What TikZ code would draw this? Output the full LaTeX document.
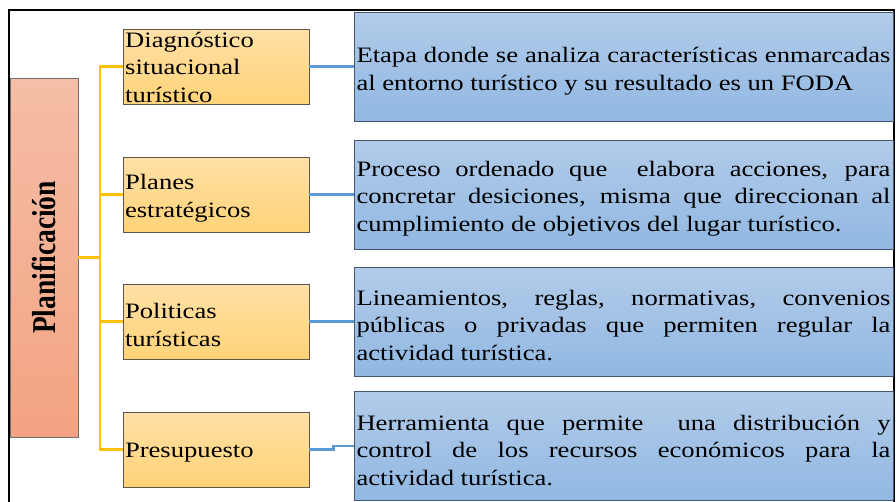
\documentclass[tikz,border=0pt]{standalone}
\usepackage{fontspec}
\setmainfont{Liberation Serif}[FakeStretch=1.21]
\newfontfamily\plainserif{Liberation Serif}
\usetikzlibrary{calc}
\definecolor{ytop}{RGB}{255,224,166}
\definecolor{ybot}{RGB}{255,211,120}
\definecolor{yborder}{RGB}{95,85,72}
\definecolor{btop}{RGB}{178,203,233}
\definecolor{bbot}{RGB}{145,184,226}
\definecolor{bborder}{RGB}{70,88,110}
\definecolor{ptop}{RGB}{245,190,166}
\definecolor{pbot}{RGB}{243,163,130}
\definecolor{pborder}{RGB}{110,110,110}
\definecolor{gold}{RGB}{255,192,0}
\definecolor{lblue}{RGB}{91,155,213}
\tikzset{
  ybox/.style={draw=yborder, line width=0.9pt, top color=ytop, bottom color=ybot,
    minimum width=186pt, minimum height=75pt, inner sep=0pt},
  ytext/.style={inner sep=0pt, text width=182pt, align=left,
    font=\fontsize{22}{27.5}\selectfont},
  bbox/.style={draw=bborder, line width=0.9pt, top color=btop, bottom color=bbot,
    minimum width=539pt, minimum height=109pt, inner sep=0pt},
  btext/.style={inner sep=0pt, text width=534pt, align=justify,
    font=\fontsize{22}{27.5}\selectfont},
  yc/.style={draw=gold, line width=2.6pt},
  bc/.style={draw=lblue, line width=2.2pt},
}
\begin{document}
\begin{tikzpicture}[x=1pt,y=-1pt]
\useasboundingbox (0,0) rectangle (896,501);
\clip (0,0) rectangle (896,501);
\fill[white] (0,0) rectangle (896,501);
% frame
\draw[black, line width=1.8pt] (9,530) -- (9,10) -- (894,10) -- (894,530);
% pink
\node[draw=pborder, line width=0.9pt, top color=ptop, bottom color=pbot,
  minimum width=68pt, minimum height=359pt, inner sep=0pt] (pink) at (44,257.5)
  {\rotatebox{90}{\scalebox{1}[1.21]{\plainserif\fontsize{27.5}{30}\selectfont\bfseries Planificación}}};
% yellow boxes
\node[ybox] (y1) at (216,66.5) {};
\node[anchor=base west, inner sep=0pt] (y1t) at (125,47)
  {\parbox[t]{182pt}{\fontsize{22}{27.5}\selectfont Diagnóstico\\situacional\\turístico}};
\node[ybox] (y2) at (216,194.5) {};
\node[ytext] (y2t) at ($(y2.center)+(0,3.5)$) {Planes\\estratégicos};
\node[ybox] (y3) at (216,321.5) {};
\node[ytext] (y3t) at ($(y3.center)+(0,3.5)$) {Politicas\\turísticas};
\node[ybox] (y4) at (216,449.5) {};
\node[ytext] (y4t) at ($(y4.center)+(0,3.5)$) {Presupuesto};
% blue boxes
\node[bbox] (b1) at (623.5,66.5) {};
\node[btext] (b1t) at ($(b1.center)+(0,4.5)$) {Etapa donde se analiza características enmarcadas\linebreak al entorno turístico y su resultado es un FODA};
\node[bbox] (b2) at (623.5,194.5) {};
\node[btext] (b2t) at ($(b2.center)+(0,4)$) {Proceso ordenado que\ \ elabora acciones, para\linebreak concretar desiciones, misma que direccionan al\linebreak cumplimiento de objetivos del lugar turístico.};
\node[bbox] (b3) at (623.5,321.5) {};
\node[btext] (b3t) at ($(b3.center)+(0,4)$) {Lineamientos, reglas, normativas, convenios\linebreak públicas o privadas que permiten regular la\linebreak actividad turística.};
\node[bbox] (b4) at (623.5,446) {};
\node[btext] (b4t) at ($(b4.center)+(0,4)$) {Herramienta que permite\ \ una distribución y\linebreak control de los recursos económicos para la\linebreak actividad turística.};
% yellow connectors
\coordinate (bus) at (100,257.5);
\draw[yc] (pink.east) -- (bus);
\draw[yc] (bus) |- (y1.west);
\draw[yc] (bus) |- (y2.west);
\draw[yc] (bus) |- (y3.west);
\draw[yc] (bus) |- (y4.west);
% blue connectors
\draw[bc] (y1.east) -- (b1.west);
\draw[bc] (y2.east) -- (b2.west);
\draw[bc] (y3.east) -- (b3.west);
\coordinate (kink) at ($(y4.east)+(24,0)$);
\draw[bc] (y4.east) -- (kink) |- (b4.west);
\end{tikzpicture}
\end{document}
